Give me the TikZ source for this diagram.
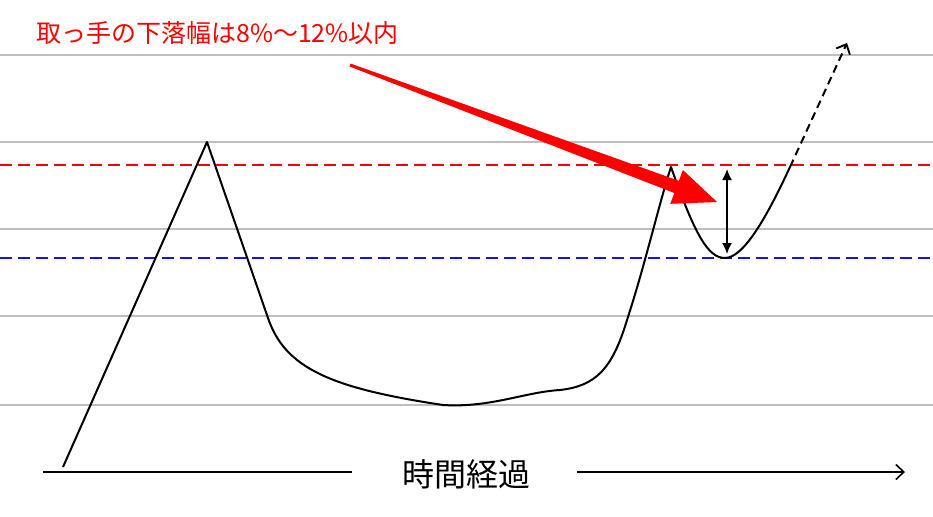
\documentclass[tikz,border=0pt]{standalone}
\usepackage{fontspec}
\newfontfamily\jp{Noto Sans CJK JP}
\usetikzlibrary{arrows.meta,calc}
\definecolor{rot}{HTML}{FF0000}
\definecolor{blau}{HTML}{1414E6}
\definecolor{rastergrau}{HTML}{BEBEBE}
\tikzset{
  gitter/.style={rastergrau,line width=1.8pt},
  hilfrot/.style={rot,dash pattern=on 12pt off 6pt,line width=1.6pt},
  hilfblau/.style={blau,dash pattern=on 12pt off 6pt,line width=1.6pt},
  kurs/.style={black,line width=2pt,line join=round},
  prognose/.style={black,dash pattern=on 8pt off 5pt,line width=2pt,
    -{Straight Barb[length=8pt,width=15pt,line width=1.9pt]}},
  spanne/.style={{Latex[length=11pt,width=10pt]}-{Latex[length=11pt,width=10pt]},
    black,line width=1.6pt},
  zeitachse/.style={black,line width=2pt},
}

\begin{document}
\begin{tikzpicture}[x=1pt,y=-1pt]
  \useasboundingbox (0,0) rectangle (933,516);
  % Raster
  \foreach \yy in {55,142,229,316,405}
    \draw[gitter] (0,\yy)--(933,\yy);
  \draw[hilfrot] (0,165)--(930,165);
  \draw[hilfblau] (0,258)--(930,258);
  % Kurs: Tasse mit Henkel
  \coordinate (tief) at (63,467);
  \coordinate (linkergipfel) at (207,142);
  \coordinate (abstieg) at (268,318);
  \coordinate (boden) at (443,405);
  \coordinate (schulter) at (560,390);
  \coordinate (anstieg) at (627,320);
  \coordinate (rechtergipfel) at (671,167);
  \coordinate (henkel) at (725,258);
  \coordinate (ausbruch) at (790,167);
  \coordinate (ziel) at (847,43);
  \draw[kurs] (tief)--(linkergipfel)--(abstieg)
    .. controls (285,368) and (330,388) .. (boden)
    .. controls (490,408) and (525,392) .. (schulter)
    .. controls (595,386) and (612,370) .. (anstieg)
    .. controls (645,265) and (660,200) .. (rechtergipfel)
    .. controls (695,235) and (708,258) .. (henkel)
    .. controls (745,258) and (770,210) .. (ausbruch);
  \draw[prognose] (ausbruch)--(ziel);
  % Henkeltiefe
  \coordinate (spanneo) at (727,169);
  \coordinate (spanneu) at (727,254);
  \draw[spanne] (spanneo)--(spanneu);
  % Hinweis
  \node[rot,anchor=west,inner sep=0pt,font=\jp\fontsize{25}{29}\selectfont]
    (hinweis) at (36,33) {取っ手の下落幅は8\%～12\%以内};
  \coordinate (pfeila) at (350,65);
  \coordinate (pfeilb) at (717,202);
  \coordinate (hals) at ($(pfeila)!0.89!(pfeilb)$);
  \fill[black,opacity=0.18,shift={(2,2)}]
    ($(pfeila)!1.5pt!90:(pfeilb)$)--($(hals)!6.5pt!90:(pfeilb)$)
    --($(hals)!18pt!90:(pfeilb)$)--(pfeilb)--($(hals)!18pt!-90:(pfeilb)$)
    --($(hals)!6.5pt!-90:(pfeilb)$)--($(pfeila)!1.5pt!-90:(pfeilb)$)--cycle;
  \fill[rot]
    ($(pfeila)!1.5pt!90:(pfeilb)$)--($(hals)!6.5pt!90:(pfeilb)$)
    --($(hals)!18pt!90:(pfeilb)$)--(pfeilb)--($(hals)!18pt!-90:(pfeilb)$)
    --($(hals)!6.5pt!-90:(pfeilb)$)--($(pfeila)!1.5pt!-90:(pfeilb)$)--cycle;
  % Zeitachse
  \node[inner sep=0pt,font=\jp\fontsize{32}{36}\selectfont] (zeit) at (466,474) {時間経過};
  \coordinate (achsea) at (43,472);
  \coordinate (achseb) at (352,472);
  \coordinate (achsec) at (577,472);
  \coordinate (achsed) at (905,472);
  \draw[zeitachse] (achsea)--(achseb);
  \draw[zeitachse,-{Straight Barb[length=8pt,width=15pt,line width=1.6pt]}] (achsec)--(achsed);
\end{tikzpicture}
\end{document}
